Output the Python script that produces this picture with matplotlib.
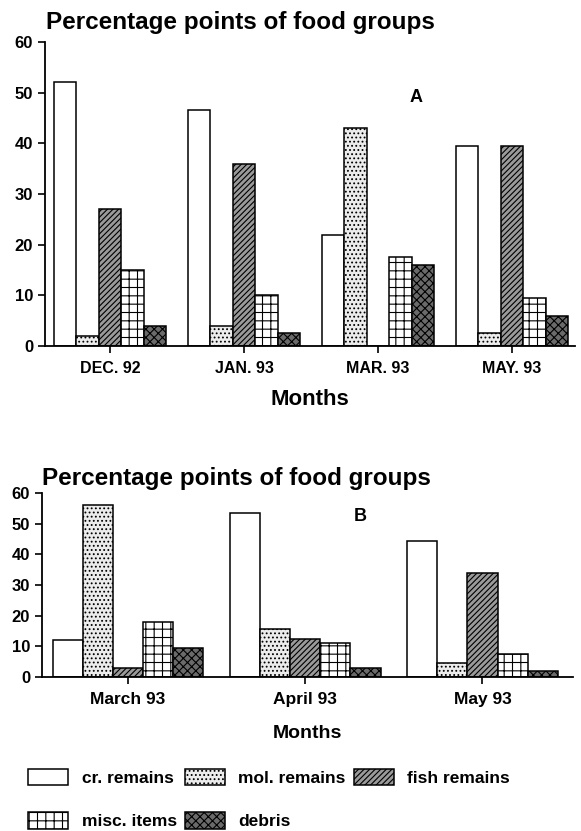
import numpy as np
import matplotlib.pyplot as plt
from matplotlib.patches import Patch

plt.rcParams['font.family'] = ['Liberation Sans', 'DejaVu Sans']
plt.rcParams['font.weight'] = 'bold'
plt.rcParams['hatch.linewidth'] = 0.8

# data
groups = ['cr. remains', 'mol. remains', 'fish remains', 'misc. items', 'debris']

months_a = ['DEC. 92', 'JAN. 93', 'MAR. 93', 'MAY. 93']
cr_a = [52, 46.5, 22, 39.5]
mol_a = [2, 4, 43, 2.5]
fish_a = [27, 36, 0, 39.5]
misc_a = [15, 10, 17.5, 9.5]
debris_a = [4, 2.5, 16, 6]

months_b = ['March 93', 'April 93', 'May 93']
cr_b = [12, 53.5, 44.5]
mol_b = [56, 15.5, 4.5]
fish_b = [3, 12.5, 34]
misc_b = [18, 11, 7.5]
debris_b = [9.5, 3, 2]

# styles per food group
styles = [
    dict(facecolor='white', hatch=None),
    dict(facecolor='#ececec', hatch='....'),
    dict(facecolor='#9a9a9a', hatch='//////'),
    dict(facecolor='white', hatch='++'),
    dict(facecolor='#6a6a6a', hatch='xxxx'),
]

fig = plt.figure(figsize=(5.81, 8.31), dpi=100)


def draw_panel(ax, months, series, width, xlim, letter, letter_xy,
               xtick_size, xlabel_size, xlabel_pad):
    x = np.arange(len(months))
    for i, vals in enumerate(series):
        st = styles[i]
        ax.bar(x + (i - 2) * width, vals, width, facecolor=st['facecolor'],
               hatch=st['hatch'], edgecolor='black', linewidth=1.1)
    ax.set_xlim(*xlim)
    ax.set_ylim(0, 60)
    ax.set_yticks(range(0, 61, 10))
    ax.set_xticks(x)
    ax.set_xticklabels(months, fontsize=xtick_size, fontweight='bold')
    ax.tick_params(axis='y', labelsize=12, width=1.2, length=5)
    ax.tick_params(axis='x', width=1.2, length=5, pad=6)
    for lab in ax.get_yticklabels():
        lab.set_fontweight('bold')
    ax.spines['top'].set_visible(False)
    ax.spines['right'].set_visible(False)
    ax.spines['left'].set_linewidth(1.3)
    ax.spines['bottom'].set_linewidth(1.3)
    ax.set_xlabel('Months', fontsize=xlabel_size, fontweight='bold',
                  labelpad=xlabel_pad)
    ax.text(letter_xy[0], letter_xy[1], letter, transform=ax.transAxes,
            fontsize=13, fontweight='bold', ha='center', va='center')


ax_a = fig.add_axes([0.0775, 0.5836, 0.912, 0.366])
draw_panel(ax_a, months_a, [cr_a, mol_a, fish_a, misc_a, debris_a], 0.168,
           (-0.485, 3.47), 'A', (0.70, 0.816), 11.5, 16, 9)
fig.text(0.08, 0.973, 'Percentage points of food groups', fontsize=17.5,
         fontweight='bold', va='center')

ax_b = fig.add_axes([0.072, 0.1853, 0.914, 0.2214])
draw_panel(ax_b, months_b, [cr_b, mol_b, fish_b, misc_b, debris_b], 0.17,
           (-0.486, 2.51), 'B', (0.60, 0.87), 12.5, 14, 13)
fig.text(0.072, 0.424, 'Percentage points of food groups', fontsize=17.5,
         fontweight='bold', va='center')

# legend, row-major order
order = [0, 3, 1, 4, 2]
handles = [Patch(facecolor=styles[i]['facecolor'], hatch=styles[i]['hatch'],
                 edgecolor='black', linewidth=1.1, label=groups[i]) for i in order]
fig.legend(handles=handles, ncol=3, loc='lower left', bbox_to_anchor=(0.045, 0.0),
           frameon=False, fontsize=12.5, handlelength=2.3, handleheight=1.1,
           columnspacing=0.45, handletextpad=0.8, labelspacing=1.5,
           borderaxespad=0.0, borderpad=0.1)

fig.savefig('out.png', dpi=100)
